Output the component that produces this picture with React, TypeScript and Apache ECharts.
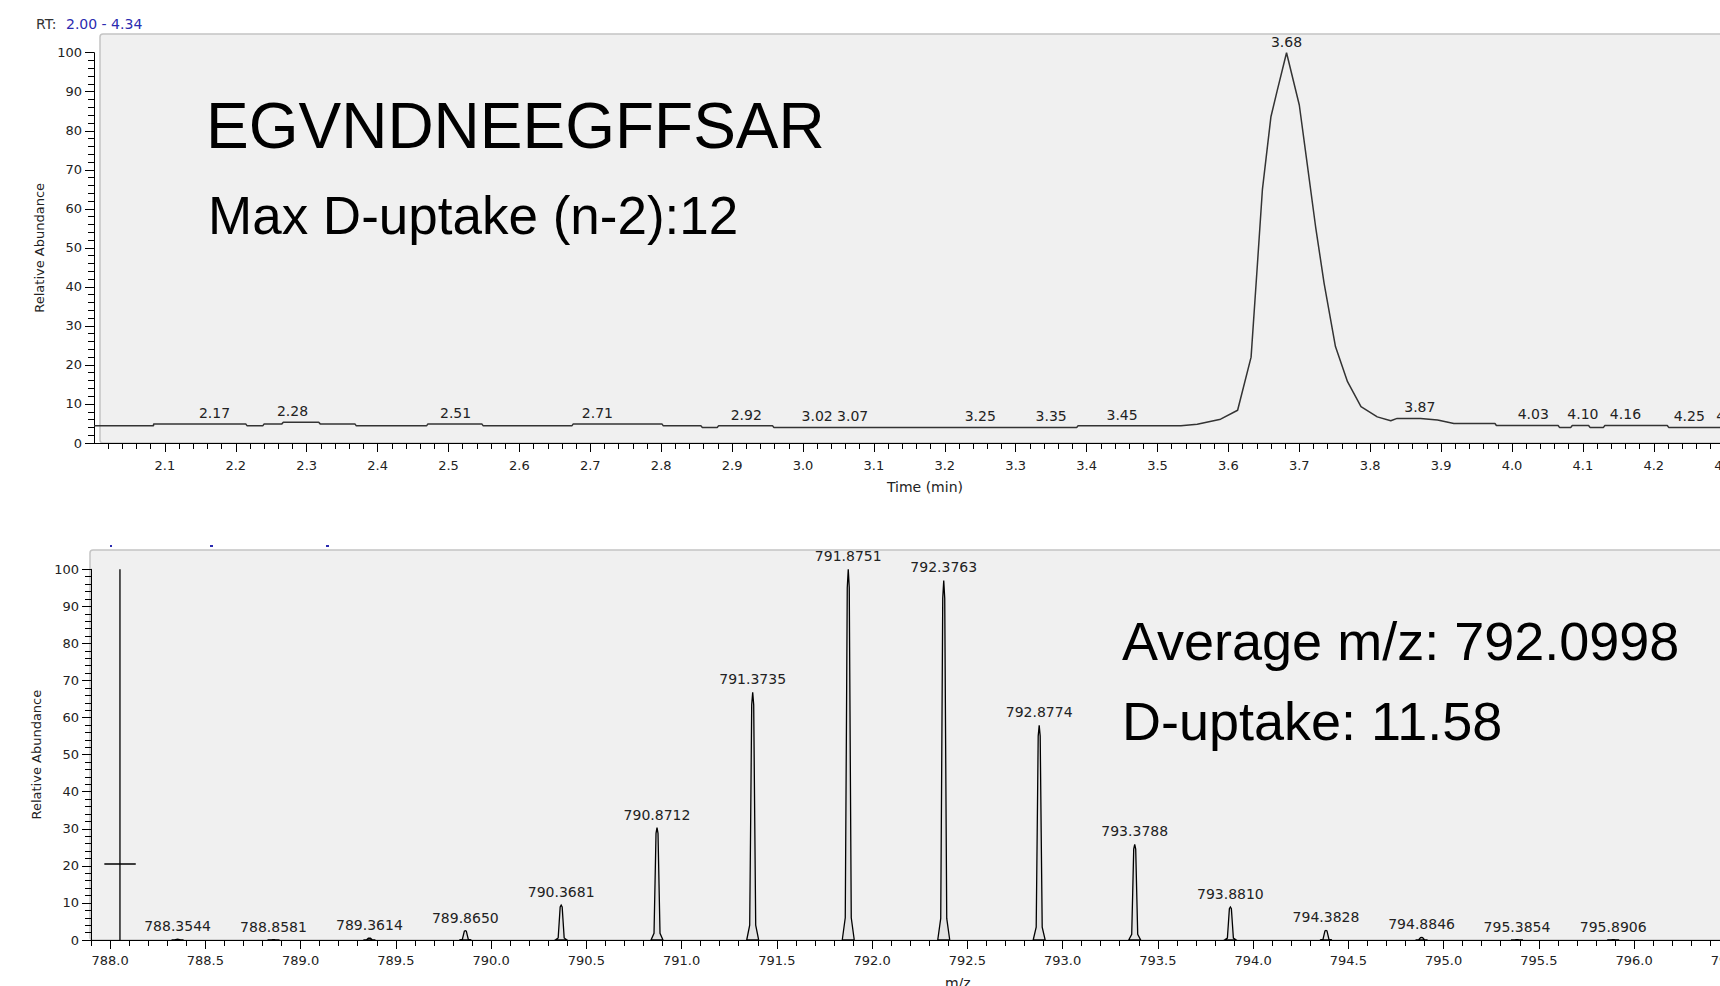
import React, { useEffect, useRef } from "react";
import * as echarts from "echarts";

// ---------- data ----------
const rtLabel = "RT:";
const rtRangeText = "2.00 - 4.34";
const peptide = "EGVNDNEEGFFSAR";
const maxUptakeText = "Max D-uptake (n-2):12";
const avgMzText = "Average m/z: 792.0998";
const uptakeText = "D-uptake: 11.58";

const timeMin = 2.0;
const timeMax = 4.344;

// chromatogram trace [time (min), relative abundance]
const chromatogram: number[][] = [
  [2.0, 4.4], [2.084, 4.4], [2.084, 4.9], [2.214, 4.9], [2.216, 4.4], [2.238, 4.4],
  [2.24, 4.9], [2.265, 4.9], [2.267, 5.3], [2.317, 5.3], [2.319, 4.9], [2.368, 4.9],
  [2.37, 4.4], [2.469, 4.4], [2.471, 4.9], [2.547, 4.9], [2.549, 4.4], [2.674, 4.4],
  [2.676, 4.9], [2.801, 4.9], [2.803, 4.4], [2.856, 4.4], [2.858, 4.0], [2.879, 4.0],
  [2.881, 4.4], [2.957, 4.4], [2.959, 4.0], [3.386, 4.0], [3.388, 4.4], [3.533, 4.4],
  [3.556, 4.8], [3.589, 6.1], [3.613, 8.4], [3.632, 22], [3.641, 46], [3.648, 65],
  [3.66, 83.6], [3.669, 90.4], [3.682, 100], [3.7, 86.6], [3.711, 71.7], [3.723, 55.4],
  [3.735, 40.9], [3.751, 24.7], [3.768, 15.7], [3.787, 9.3], [3.81, 6.7], [3.829, 5.7],
  [3.838, 6.3], [3.871, 6.3], [3.895, 5.9], [3.918, 5.0], [3.976, 5.0], [3.978, 4.5],
  [4.065, 4.5], [4.067, 4.0], [4.083, 4.0], [4.085, 4.5], [4.108, 4.5], [4.11, 4.0],
  [4.129, 4.0], [4.131, 4.5], [4.219, 4.5], [4.221, 4.0], [4.344, 4.0],
];

// labelled retention times and the trace level under them
const rtPeakTimes = [2.17, 2.28, 2.51, 2.71, 2.92, 3.02, 3.07, 3.25, 3.35, 3.45, 3.682, 3.87, 4.03, 4.1, 4.16, 4.25, 4.31];
const rtPeakLevels = [4.9, 5.3, 4.9, 4.9, 4.4, 4.0, 4.0, 4.0, 4.0, 4.4, 100, 6.3, 4.5, 4.5, 4.5, 4.0, 4.0];

// spectrum centroids
const mzMin = 787.9;
const mzMax = 797.0;
const peakMz = [788.3544, 788.8581, 789.3614, 789.865, 790.3681, 790.8712, 791.3735, 791.8751, 792.3763, 792.8774, 793.3788, 793.881, 794.3828, 794.8846, 795.3854, 795.8906];
const peakIntensity = [0.2, 0.1, 0.5, 2.5, 9.4, 30.3, 66.8, 100, 97, 57.9, 25.8, 8.9, 2.6, 0.7, 0.1, 0.1];

// cursor marker in the spectrum
const cursorVertical = [[788.052, 0], [788.052, 100]];
const cursorCrossbar = [[787.97, 20.5], [788.135, 20.5]];

// tick values
const timeMajorTicks: number[] = [];
for (let i = 21; i <= 43; i++) timeMajorTicks.push(i / 10);
const timeMinorTicks: number[] = [];
for (let i = 101; i <= 217; i++) timeMinorTicks.push(i / 50);
const mzMajorTicks: number[] = [];
for (let i = 1576; i <= 1594; i++) mzMajorTicks.push(i / 2);
const mzMinorTicks: number[] = [];
for (let i = 7879; i <= 7970; i++) mzMinorTicks.push(i / 10);

const FONT = '"DejaVu Sans", Verdana, sans-serif';
const BIG = '"Liberation Sans", Arial, sans-serif';

export default function App() {
  const ref = useRef<HTMLDivElement>(null);
  useEffect(() => {
    if (!ref.current) return;
    const chart = echarts.init(ref.current, undefined, { renderer: "svg" });

    const tickLabel = { color: "#222", fontSize: 13, fontFamily: FONT };
    const axisLine = { show: true, onZero: false, lineStyle: { color: "#000", width: 1 } };

    const makeMajorX = (grid: number, min: number, max: number, ticks: number[], margin: number, name: string, nameGap: number) => ({
      type: "value", gridIndex: grid, position: "bottom", min, max,
      axisLine,
      axisTick: { show: true, length: 9, customValues: ticks, lineStyle: { color: "#000" } },
      axisLabel: { ...tickLabel, margin, customValues: ticks, formatter: (v: number) => v.toFixed(1) },
      splitLine: { show: false },
      name, nameLocation: "middle", nameGap,
      nameTextStyle: { color: "#222", fontSize: 14, fontFamily: FONT },
    });
    const makeMinorX = (grid: number, min: number, max: number, ticks: number[]) => ({
      type: "value", gridIndex: grid, position: "bottom", min, max,
      axisLine: { show: false },
      axisTick: { show: true, length: 6, customValues: ticks, lineStyle: { color: "#000" } },
      axisLabel: { show: false },
      splitLine: { show: false },
    });
    const makeY = (grid: number, nameGap: number) => ({
      type: "value", gridIndex: grid, position: "left", min: 0, max: 100, interval: 10,
      axisLine,
      axisTick: { show: true, length: 9, lineStyle: { color: "#000" } },
      minorTick: { show: true, splitNumber: 5, length: 6, lineStyle: { color: "#000" } },
      axisLabel: { ...tickLabel, margin: 12 },
      splitLine: { show: false },
      name: "Relative Abundance", nameLocation: "middle", nameGap,
      nameTextStyle: { color: "#222", fontSize: 13, fontFamily: FONT },
    });

    const option: any = {
      animation: false,
      backgroundColor: "#ffffff",
      grid: [
        { left: 94, top: 52.7, width: (timeMax - timeMin) * 709, height: 390.3, outerBoundsMode: "none", containLabel: false },
        { left: 91, top: 569.3, width: (mzMax - mzMin) * 190.5, height: 370.7, outerBoundsMode: "none", containLabel: false },
      ],
      xAxis: [
        makeMajorX(0, timeMin, timeMax, timeMajorTicks, 16, "Time (min)", 37),
        makeMinorX(0, timeMin, timeMax, timeMinorTicks),
        makeMajorX(1, mzMin, mzMax, mzMajorTicks, 14, "m/z", 36),
        makeMinorX(1, mzMin, mzMax, mzMinorTicks),
      ],
      yAxis: [makeY(0, 41), makeY(1, 42)],
      graphic: [
        { type: "rect", z: -1, shape: { x: 100, y: 34, width: 1700, height: 409, r: 3 }, style: { fill: "#f0f0f0", stroke: "#c4c4c4", lineWidth: 1.5 } },
        { type: "rect", z: -1, shape: { x: 90, y: 550, width: 1700, height: 390, r: 3 }, style: { fill: "#f0f0f0", stroke: "#c4c4c4", lineWidth: 1.5 } },
        { type: "text", z: 10, x: 36, y: 24, style: { text: rtLabel, fill: "#333", font: `14px ${FONT}`, verticalAlign: "middle" } },
        { type: "text", z: 10, x: 66, y: 24, style: { text: rtRangeText, fill: "#2b2bb0", font: `14px ${FONT}`, verticalAlign: "middle" } },
        { type: "rect", z: 10, shape: { x: 110, y: 545, width: 2, height: 2 }, style: { fill: "#2b2bb0" } },
        { type: "rect", z: 10, shape: { x: 210, y: 545, width: 3, height: 2 }, style: { fill: "#2b2bb0" } },
        { type: "rect", z: 10, shape: { x: 326, y: 545, width: 3, height: 2 }, style: { fill: "#2b2bb0" } },
        { type: "text", z: 10, x: 206, y: 126, style: { text: peptide, fill: "#000", font: `64px ${BIG}`, verticalAlign: "middle" } },
        { type: "text", z: 10, x: 208, y: 215, style: { text: maxUptakeText, fill: "#000", font: `53px ${BIG}`, verticalAlign: "middle" } },
        { type: "text", z: 10, x: 1122, y: 641, style: { text: avgMzText, fill: "#000", font: `54px ${BIG}`, verticalAlign: "middle" } },
        { type: "text", z: 10, x: 1122, y: 721, style: { text: uptakeText, fill: "#000", font: `54px ${BIG}`, verticalAlign: "middle" } },
      ],
      series: [
        {
          type: "line", xAxisIndex: 0, yAxisIndex: 0, data: chromatogram,
          symbol: "none", lineStyle: { color: "#333", width: 1.5 }, z: 3,
        },
        {
          type: "custom", xAxisIndex: 0, yAxisIndex: 0, z: 4,
          data: rtPeakTimes.map((t, i) => [t, rtPeakLevels[i]]),
          renderItem: (params: any, api: any) => {
            const p = api.coord([api.value(0), api.value(1)]);
            return {
              type: "text", x: p[0], y: p[1] - 4,
              style: { text: api.value(0).toFixed(2), align: "center", verticalAlign: "bottom", font: `14px ${FONT}`, fill: "#222" },
            };
          },
        },
        {
          type: "custom", xAxisIndex: 2, yAxisIndex: 1, z: 4,
          data: peakMz.map((m, i) => [m, peakIntensity[i]]),
          renderItem: (params: any, api: any) => {
            const mz = api.value(0);
            const top = api.coord([mz, api.value(1)]);
            const base = api.coord([mz, 0]);
            const x = top[0];
            const b = base[1];
            const H = b - top[1];
            const pts = [
              [x - 6, b], [x - 3, b - 0.06 * H], [x - 2, b - 0.5 * H], [x - 1, b - 0.95 * H], [x, top[1]],
              [x + 1, b - 0.95 * H], [x + 2, b - 0.5 * H], [x + 3, b - 0.06 * H], [x + 6, b],
            ];
            return {
              type: "group",
              children: [
                { type: "polygon", shape: { points: pts }, style: { fill: "#e4e4e4", stroke: "#000", lineWidth: 1.3 } },
                { type: "text", x, y: top[1] - 6, style: { text: mz.toFixed(4), align: "center", verticalAlign: "bottom", font: `14px ${FONT}`, fill: "#222" } },
              ],
            };
          },
        },
        {
          type: "line", xAxisIndex: 2, yAxisIndex: 1, data: cursorVertical,
          symbol: "none", lineStyle: { color: "#000", width: 1.3 }, z: 3,
        },
        {
          type: "line", xAxisIndex: 2, yAxisIndex: 1, data: cursorCrossbar,
          symbol: "none", lineStyle: { color: "#000", width: 1.3 }, z: 3,
        },
      ],
    };
    chart.setOption(option);
    return () => chart.dispose();
  }, []);
  return <div ref={ref} style={{ position: "fixed", left: 0, top: 0, width: 1720, height: 986 }} />;
}
